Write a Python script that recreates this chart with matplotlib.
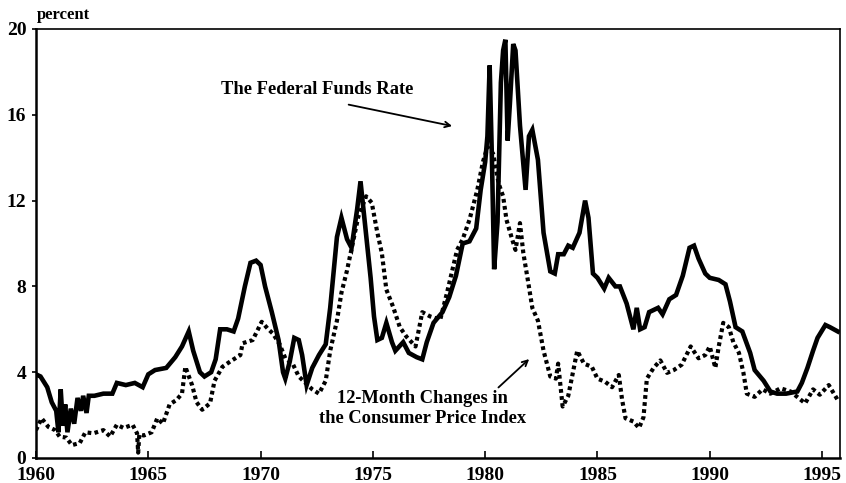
import matplotlib
matplotlib.use("Agg")
import matplotlib.pyplot as plt

# Federal funds rate (solid)
ff_years = [1960.0, 1960.2, 1960.5, 1960.7, 1960.9, 1961.0, 1961.1, 1961.2, 1961.3, 1961.4,
            1961.55, 1961.7, 1961.85, 1962.0, 1962.1, 1962.25, 1962.35, 1962.6, 1963.0, 1963.4,
            1963.6, 1964.0, 1964.4, 1964.75, 1965.0, 1965.3, 1965.8, 1966.2, 1966.5, 1966.8,
            1967.0, 1967.3, 1967.5, 1967.8, 1968.0, 1968.2, 1968.5, 1968.8, 1969.0, 1969.3,
            1969.55, 1969.8, 1970.0, 1970.2, 1970.5, 1970.8, 1971.0, 1971.1, 1971.3, 1971.5,
            1971.7, 1971.85, 1972.05, 1972.3, 1972.6, 1972.9, 1973.1, 1973.4, 1973.6, 1973.85,
            1974.05, 1974.3, 1974.45, 1974.65, 1974.9, 1975.05, 1975.2, 1975.4, 1975.6, 1975.85,
            1976.0, 1976.35, 1976.6, 1976.95, 1977.2, 1977.4, 1977.7, 1978.1, 1978.4, 1978.7,
            1979.0, 1979.3, 1979.6, 1979.8, 1980.0, 1980.1, 1980.2, 1980.3, 1980.4, 1980.55,
            1980.7, 1980.8, 1980.9, 1981.0, 1981.1, 1981.25, 1981.35, 1981.55, 1981.8, 1981.95,
            1982.1, 1982.35, 1982.6, 1982.9, 1983.1, 1983.25, 1983.5, 1983.7, 1983.9, 1984.2,
            1984.45, 1984.6, 1984.8, 1985.0, 1985.3, 1985.5, 1985.8, 1986.0, 1986.3, 1986.6,
            1986.75, 1986.9, 1987.1, 1987.3, 1987.5, 1987.7, 1987.9, 1988.2, 1988.5, 1988.8,
            1989.1, 1989.3, 1989.5, 1989.8, 1990.0, 1990.4, 1990.7, 1990.9, 1991.15, 1991.45,
            1991.8, 1992.0, 1992.4, 1992.7, 1993.0, 1993.4, 1993.9, 1994.1, 1994.35, 1994.6,
            1994.8, 1995.15, 1995.35, 1995.7]
ff_rate = [3.9, 3.8, 3.3, 2.6, 2.2, 1.2, 3.2, 1.5, 2.5, 1.2,
           2.3, 1.6, 2.8, 2.2, 2.9, 2.1, 2.9, 2.9, 3.0, 3.0,
           3.5, 3.4, 3.5, 3.3, 3.9, 4.1, 4.2, 4.7, 5.2, 5.9,
           5.0, 4.0, 3.8, 4.0, 4.6, 6.0, 6.0, 5.9, 6.5, 8.0,
           9.1, 9.2, 9.0, 8.0, 6.8, 5.5, 4.0, 3.7, 4.5, 5.6,
           5.5, 4.8, 3.4, 4.2, 4.8, 5.3, 7.0, 10.3, 11.2, 10.2,
           9.8, 11.6, 12.9, 10.9, 8.4, 6.6, 5.5, 5.6, 6.3, 5.4,
           5.0, 5.4, 4.9, 4.7, 4.6, 5.4, 6.3, 6.8, 7.5, 8.5,
           10.0, 10.1, 10.7, 12.5, 13.8, 15.0, 18.3, 14.0, 8.8, 11.0,
           17.5, 19.0, 19.5, 14.8, 16.5, 19.3, 19.0, 15.5, 12.5, 15.0,
           15.3, 13.9, 10.5, 8.7, 8.6, 9.5, 9.5, 9.9, 9.8, 10.5,
           12.0, 11.2, 8.6, 8.4, 7.9, 8.4, 8.0, 8.0, 7.2, 6.0,
           7.0, 6.0, 6.1, 6.8, 6.9, 7.0, 6.7, 7.4, 7.6, 8.5,
           9.8, 9.9, 9.3, 8.6, 8.4, 8.3, 8.1, 7.3, 6.1, 5.9,
           4.9, 4.1, 3.6, 3.1, 3.0, 3.0, 3.1, 3.5, 4.2, 5.0,
           5.6, 6.2, 6.1, 5.9]

# 12-month CPI change (dotted)
cpi_years = [1960.0, 1960.25, 1960.55, 1960.85, 1961.05, 1961.35, 1961.6, 1961.95, 1962.2, 1962.55,
             1963.0, 1963.3, 1963.6, 1963.9, 1964.3, 1964.5, 1964.55, 1964.6, 1964.8, 1965.15,
             1965.4, 1965.65, 1965.95, 1966.25, 1966.5, 1966.65, 1966.95, 1967.15, 1967.4, 1967.75,
             1967.95, 1968.3, 1968.65, 1969.1, 1969.2, 1969.65, 1970.05, 1970.3, 1970.55, 1970.85,
             1971.1, 1971.45, 1971.7, 1972.0, 1972.3, 1972.6, 1972.9, 1973.1, 1973.4, 1973.6,
             1973.85, 1974.1, 1974.35, 1974.7, 1974.95, 1975.2, 1975.4, 1975.6, 1975.9, 1976.2,
             1976.5, 1976.9, 1977.2, 1977.55, 1978.0, 1978.3, 1978.75, 1979.0, 1979.3, 1979.65,
             1979.9, 1980.1, 1980.35, 1980.6, 1980.8, 1980.95, 1981.2, 1981.35, 1981.55, 1981.7,
             1981.9, 1982.1, 1982.35, 1982.6, 1982.9, 1983.15, 1983.25, 1983.45, 1983.7, 1984.1,
             1984.4, 1984.75, 1985.0, 1985.35, 1985.65, 1985.95, 1986.1, 1986.25, 1986.6, 1986.85,
             1987.05, 1987.2, 1987.5, 1987.8, 1988.1, 1988.4, 1988.75, 1989.15, 1989.5, 1989.8,
             1990.0, 1990.25, 1990.4, 1990.6, 1990.85, 1991.05, 1991.3, 1991.5, 1991.65, 1992.0,
             1992.35, 1992.7, 1993.15, 1993.6, 1993.95, 1994.25, 1994.6, 1994.9, 1995.3, 1995.7]
cpi_change = [1.3, 1.85, 1.45, 1.3, 1.0, 0.95, 0.6, 0.7, 1.2, 1.15,
              1.3, 1.0, 1.55, 1.4, 1.55, 1.15, 0.25, 1.1, 1.05, 1.2,
              1.85, 1.6, 2.5, 2.7, 3.0, 4.25, 3.4, 2.6, 2.25, 2.55,
              3.6, 4.25, 4.5, 4.8, 5.35, 5.5, 6.35, 6.05, 5.8, 5.3,
              4.65, 4.35, 3.8, 3.5, 3.2, 3.0, 3.6, 5.0, 6.4, 7.7,
              8.75, 10.0, 11.25, 12.2, 11.9, 10.5, 9.55, 7.85, 7.05, 6.1,
              5.65, 5.2, 6.8, 6.6, 6.45, 7.7, 9.7, 10.2, 11.1, 12.5,
              13.8, 14.5, 14.2, 12.8, 12.2, 11.1, 10.2, 9.7, 10.95, 9.55,
              8.3, 7.0, 6.4, 5.0, 3.8, 3.7, 4.4, 2.4, 2.9, 5.0,
              4.4, 4.25, 3.7, 3.55, 3.3, 3.87, 2.7, 1.85, 1.7, 1.4,
              1.9, 3.7, 4.2, 4.55, 3.97, 4.1, 4.35, 5.2, 4.65, 4.8,
              5.2, 4.2, 5.2, 6.3, 6.1, 5.4, 4.9, 3.97, 3.0, 2.85,
              3.2, 3.0, 3.25, 3.1, 2.8, 2.55, 3.2, 2.95, 3.4, 2.7]

x_ticks = [1960, 1965, 1970, 1975, 1980, 1985, 1990, 1995]
y_ticks = [0, 4, 8, 12, 16, 20]

serif = ["Liberation Serif", "DejaVu Serif"]

fig = plt.figure(figsize=(8.46, 4.83), dpi=100)
ax = fig.add_axes([36 / 846, 1 - 458 / 483, (840 - 36) / 846, (458 - 29) / 483])

ax.plot(ff_years, ff_rate, color="black", lw=3.3, solid_joinstyle="miter")
ax.plot(cpi_years, cpi_change, color="black", lw=3.0, linestyle=(0, (0.9, 0.8)),
        dash_capstyle="butt")

ax.set_xlim(1960, 1995.8)
ax.set_ylim(0, 20)
ax.set_xticks(x_ticks)
ax.set_yticks(y_ticks)
ax.tick_params(axis="x", direction="in", length=5, width=1.2, pad=6.5)
ax.tick_params(axis="y", direction="out", length=3, width=1.2, pad=4)
for lbl in ax.get_xticklabels() + ax.get_yticklabels():
    lbl.set_family(serif)
    lbl.set_fontweight("bold")
    lbl.set_fontsize(14)

for side in ["left", "bottom"]:
    ax.spines[side].set_linewidth(1.8)
for side in ["top", "right"]:
    ax.spines[side].set_linewidth(1.2)

fig.text(37 / 846, 1 - 19 / 483, "percent", family=serif, fontsize=12, fontweight="bold")

ax.text(1972.5, 17.2, "The Federal Funds Rate", family=serif, fontsize=13.3,
        fontweight="bold", ha="center", va="center")
ax.annotate("", xy=(1978.65, 15.45), xytext=(1973.8, 16.5),
            arrowprops=dict(arrowstyle="->", color="black", lw=1.3))

ax.text(1977.2, 2.3, "12-Month Changes in\nthe Consumer Price Index", family=serif,
        fontsize=13.3, fontweight="bold", ha="center", va="center", linespacing=1.2)
ax.annotate("", xy=(1982.05, 4.7), xytext=(1980.5, 3.2),
            arrowprops=dict(arrowstyle="->", color="black", lw=1.3))

fig.savefig("out.png", dpi=100)
